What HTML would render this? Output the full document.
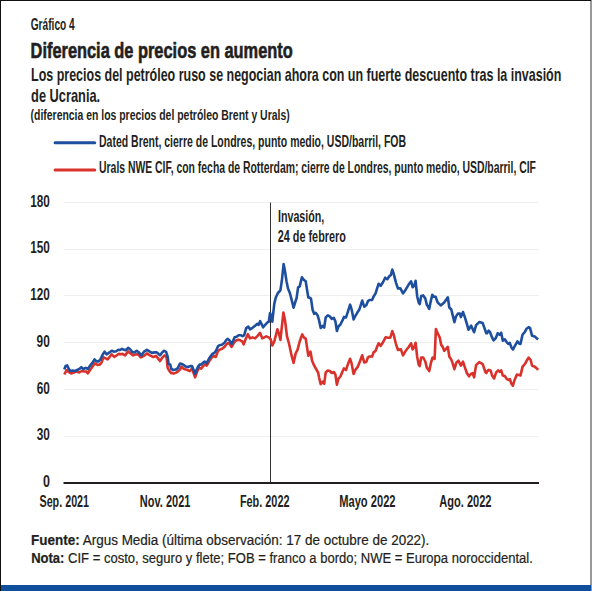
<!DOCTYPE html>
<html><head><meta charset="utf-8"><style>
html,body{margin:0;padding:0;background:#fff;width:592px;height:592px;overflow:hidden}
svg{display:block}
</style></head><body>
<svg width="592" height="592" viewBox="0 0 592 592">
<rect x="0" y="0" width="592" height="592" fill="#fff"/>
<rect x="64" width="475" y="202" height="1" fill="#efefeb"/><rect x="64" width="475" y="249" height="1" fill="#efefeb"/><rect x="64" width="475" y="295" height="1" fill="#efefeb"/><rect x="64" width="475" y="342" height="1" fill="#efefeb"/><rect x="64" width="475" y="389" height="1" fill="#efefeb"/><rect x="64" width="475" y="436" height="1" fill="#efefeb"/>
<rect x="270" y="202.5" width="1" height="280" fill="#333"/>
<rect x="63.5" y="482" width="475.5" height="2" fill="#231f20"/>
<path d="M64.3,374.5 L65.6,372.0 L66.9,370.0 L68.6,372.0 L71.1,373.5 L73.7,372.5 L76.2,371.5 L79.3,372.5 L81.8,371.0 L84.3,371.5 L86.4,371.5 L87.9,373.3 L90.4,369.5 L92.9,365.9 L95.0,363.4 L97.5,364.9 L100.0,364.4 L101.6,362.4 L103.6,357.3 L105.6,358.3 L107.6,359.3 L109.7,356.8 L111.7,354.3 L114.2,356.8 L116.8,355.3 L118.8,353.8 L120.0,354.3 L122.5,353.9 L125.1,355.4 L128.1,351.4 L130.6,353.4 L133.2,355.4 L135.7,354.4 L138.2,354.4 L140.8,357.4 L143.8,355.9 L146.9,353.4 L149.9,355.4 L152.9,356.9 L156.0,355.9 L158.0,358.4 L160.0,361.0 L162.1,357.9 L164.6,355.4 L166.6,357.4 L167.6,367.6 L169.2,370.6 L171.2,373.1 L173.7,373.6 L176.2,372.6 L178.3,371.1 L180.0,369.6 L181.4,366.7 L184.1,369.1 L186.8,369.7 L189.8,371.1 L190.0,370.7 L192.0,368.6 L193.5,372.7 L195.1,377.3 L197.1,371.7 L199.1,367.6 L201.1,368.6 L202.7,366.6 L204.7,364.6 L206.7,365.6 L209.3,361.0 L211.8,357.5 L213.8,356.0 L215.8,357.0 L217.9,351.4 L219.4,349.9 L221.9,348.9 L224.5,346.9 L226.5,344.3 L228.0,342.8 L229.5,343.8 L231.6,346.9 L233.6,343.3 L235.6,340.8 L238.1,339.8 L240.2,340.3 L242.2,341.3 L243.7,344.3 L245.2,340.3 L247.8,334.2 L250.0,338.4 L252.5,337.4 L255.1,338.4 L257.6,335.9 L260.1,332.9 L262.2,338.4 L264.2,337.4 L266.2,336.4 L268.8,337.4 L270.8,339.5 L272.3,345.5 L274.3,341.5 L277.4,329.3 L278.9,333.4 L280.4,340.0 L283.4,312.6 L285.0,320.2 L287.0,336.4 L289.0,343.5 L291.6,355.7 L293.6,362.8 L295.6,353.6 L297.6,349.6 L299.7,341.5 L302.2,334.4 L304.2,337.9 L305.7,338.4 L308.3,355.7 L309.0,354.3 L310.5,351.7 L312.1,360.8 L314.1,365.4 L316.1,369.0 L318.1,372.5 L319.1,377.6 L320.7,384.2 L322.7,381.6 L324.2,383.6 L325.7,372.5 L327.8,370.5 L329.8,371.0 L331.8,373.0 L333.8,372.0 L335.4,374.5 L336.9,384.7 L338.4,378.6 L340.4,376.6 L342.5,371.5 L344.0,368.4 L346.0,370.0 L348.0,363.9 L350.1,358.8 L351.6,363.4 L353.6,374.0 L355.6,369.5 L357.7,366.9 L359.7,361.9 L362.2,355.3 L364.2,362.4 L366.3,361.9 L368.0,357.3 L369.5,356.5 L372.1,356.5 L373.6,352.4 L375.6,350.9 L377.1,346.8 L378.6,343.3 L380.7,345.8 L382.7,342.8 L385.7,337.2 L387.8,337.7 L390.3,337.7 L392.3,331.1 L393.8,335.2 L395.9,343.8 L397.9,349.9 L400.9,349.4 L403.0,355.4 L406.0,350.4 L408.5,347.3 L411.1,343.3 L412.6,349.4 L414.1,347.3 L415.6,342.8 L417.2,357.0 L418.7,364.6 L419.7,366.1 L421.2,357.5 L423.2,357.5 L425.3,361.5 L426.8,367.6 L428.0,369.1 L429.2,371.2 L431.0,362.6 L432.6,357.5 L434.6,359.0 L435.9,329.1 L437.6,333.2 L439.7,337.3 L441.2,344.9 L442.7,346.9 L444.2,350.9 L445.7,349.4 L447.8,346.9 L449.3,356.5 L451.3,359.6 L452.8,363.6 L454.4,369.2 L456.4,362.6 L458.4,360.6 L460.9,365.6 L463.0,361.6 L465.0,367.7 L467.0,373.2 L469.0,376.3 L471.1,373.7 L472.6,373.2 L474.1,377.3 L476.1,365.1 L479.2,362.1 L482.7,364.1 L485.5,372.4 L486.3,373.2 L487.0,371.4 L488.0,370.7 L488.6,369.9 L490.6,370.4 L492.1,375.5 L494.1,378.5 L496.2,372.4 L498.2,370.4 L499.7,371.9 L501.2,370.4 L502.8,375.5 L504.8,376.0 L506.8,379.0 L508.3,380.0 L509.8,379.0 L511.4,383.6 L512.9,385.6 L514.4,380.5 L516.9,374.5 L519.0,375.0 L520.5,375.5 L522.5,366.9 L525.0,363.8 L526.6,360.8 L528.6,357.7 L530.6,359.8 L532.1,365.8 L534.2,366.4 L536.2,367.9 L538.2,369.9" fill="none" stroke="#d9312b" stroke-width="2.6" stroke-linejoin="round"/>
<path d="M64.3,369.5 L65.6,365.9 L67.1,365.4 L68.6,368.4 L70.1,371.0 L72.7,370.5 L75.2,371.0 L77.2,370.0 L79.3,369.0 L81.3,367.2 L83.3,369.0 L85.8,367.9 L87.9,369.0 L89.9,365.9 L92.4,362.9 L94.5,359.3 L96.5,361.4 L98.5,361.4 L100.5,359.3 L102.6,354.8 L104.6,351.7 L106.6,354.3 L109.2,352.7 L111.7,350.7 L113.7,351.7 L116.2,351.2 L118.3,349.7 L120.0,350.0 L122.0,348.8 L124.1,349.8 L125.6,350.3 L128.1,347.8 L130.1,349.3 L132.2,351.9 L134.2,352.4 L136.7,350.8 L138.8,352.4 L141.3,355.4 L143.8,351.9 L146.9,349.8 L149.4,351.4 L151.9,352.9 L154.5,352.4 L156.5,352.4 L158.0,353.4 L160.0,355.4 L162.1,352.4 L164.1,350.8 L166.1,351.9 L167.6,356.4 L168.6,364.0 L170.2,364.5 L171.2,368.6 L173.2,370.1 L175.7,369.6 L177.8,368.1 L180.0,363.5 L182.7,364.3 L185.4,366.4 L188.1,367.0 L190.0,366.1 L192.0,366.1 L193.5,369.7 L195.1,373.7 L196.6,369.7 L198.1,366.6 L199.6,364.6 L201.1,364.6 L202.7,363.1 L204.7,361.6 L206.7,363.1 L208.8,359.0 L210.8,356.0 L212.3,354.0 L214.3,352.9 L216.4,349.9 L217.9,346.4 L219.4,345.3 L221.9,344.8 L224.5,342.8 L226.0,340.3 L227.5,338.8 L229.5,340.3 L231.6,343.8 L233.1,340.8 L234.6,337.2 L236.6,336.7 L238.6,335.2 L240.7,335.2 L242.7,336.2 L244.2,335.2 L246.2,328.1 L248.3,326.6 L250.0,329.3 L252.5,327.8 L255.1,325.8 L257.1,323.8 L258.6,324.8 L260.1,321.2 L261.7,324.3 L263.2,327.3 L265.2,324.8 L267.2,322.7 L268.8,321.7 L270.0,313.1 L271.3,316.1 L272.3,321.7 L274.3,303.6 L275.8,297.5 L277.9,293.0 L280.4,290.4 L281.9,280.3 L283.6,264.1 L285.0,271.2 L286.5,281.3 L288.0,288.4 L290.0,293.5 L291.6,299.6 L293.6,307.7 L295.1,302.6 L296.6,298.0 L298.1,287.4 L299.7,286.4 L301.9,277.3 L303.7,279.8 L305.7,281.3 L308.3,297.5 L309.5,297.6 L311.0,298.6 L312.6,309.8 L314.1,313.8 L315.6,312.8 L317.6,315.3 L319.1,320.4 L320.7,328.0 L322.7,326.0 L324.2,327.5 L325.7,317.4 L327.8,315.3 L329.8,316.4 L331.8,318.9 L333.8,317.9 L335.4,321.4 L336.9,331.0 L338.4,326.5 L340.4,324.5 L342.5,320.4 L344.0,316.9 L346.0,317.4 L348.0,311.3 L350.1,304.7 L351.6,309.3 L353.6,319.4 L355.1,316.4 L357.2,312.8 L359.2,309.8 L362.2,300.6 L364.2,306.7 L366.3,305.2 L368.0,301.1 L369.5,300.0 L372.1,300.0 L373.6,296.5 L375.6,293.4 L377.1,288.4 L378.6,283.8 L380.7,285.8 L382.7,282.8 L385.2,277.7 L387.3,279.2 L389.3,276.2 L390.8,275.2 L392.3,269.6 L393.8,274.2 L395.9,282.3 L397.9,288.4 L400.4,288.4 L403.0,293.4 L405.5,289.9 L408.5,284.8 L411.1,281.3 L412.6,287.3 L414.1,285.8 L415.6,280.8 L417.2,296.5 L418.7,302.5 L419.7,304.1 L421.2,296.0 L423.2,295.4 L425.3,298.5 L426.8,304.6 L428.0,306.6 L429.2,309.0 L430.5,302.4 L432.3,294.8 L434.1,296.8 L435.6,296.8 L437.6,302.4 L440.7,305.4 L444.2,302.4 L447.8,297.3 L449.3,307.5 L451.3,309.5 L452.8,315.6 L454.4,322.2 L455.9,316.6 L457.9,313.6 L459.9,313.6 L460.9,317.1 L463.0,312.0 L465.0,317.6 L466.5,322.7 L468.5,329.7 L471.1,325.6 L474.1,332.2 L476.1,325.1 L479.2,322.1 L482.7,323.1 L486.3,333.2 L487.0,333.2 L488.6,330.7 L490.1,332.2 L491.6,336.3 L493.6,340.3 L495.7,338.3 L497.7,333.2 L499.7,334.8 L501.2,332.7 L502.8,340.8 L504.8,339.3 L506.8,342.4 L508.3,343.9 L509.8,342.9 L511.4,347.4 L512.9,349.5 L514.9,345.9 L517.4,341.4 L519.0,343.4 L520.5,343.9 L522.5,334.8 L525.0,331.7 L526.6,328.7 L528.6,327.2 L530.1,328.2 L532.1,335.8 L533.7,336.3 L535.2,336.8 L536.7,338.3 L538.2,339.3" fill="none" stroke="#1d4f9e" stroke-width="2.6" stroke-linejoin="round"/>
<line x1="55.1" x2="94.7" y1="142.7" y2="142.7" stroke="#1d4f9e" stroke-width="3" stroke-linecap="round"/>
<line x1="55.1" x2="94.7" y1="170.1" y2="170.1" stroke="#d9312b" stroke-width="3" stroke-linecap="round"/>
<g font-family="Liberation Sans, sans-serif" fill="#231f20">
<text id="g4" x="30.70" y="30.0" font-size="15.8" font-weight="bold" textLength="44.03" lengthAdjust="spacingAndGlyphs">Gráfico 4</text>
<text id="title" x="30.58" y="57.9" font-size="21.3" font-weight="bold" textLength="262.14" lengthAdjust="spacingAndGlyphs" stroke="#231f20" stroke-width="0.6">Diferencia de precios en aumento</text>
<text id="sub1" x="31.06" y="81.0" font-size="18.5" font-weight="bold" textLength="530.32" lengthAdjust="spacingAndGlyphs">Los precios del petróleo ruso se negocian ahora con un fuerte descuento tras la invasión</text>
<text id="sub2" x="31.08" y="102.1" font-size="18.5" font-weight="bold" textLength="69.09" lengthAdjust="spacingAndGlyphs">de Ucrania.</text>
<text id="dif" x="30.56" y="119.5" font-size="15.5" font-weight="bold" textLength="259.13" lengthAdjust="spacingAndGlyphs">(diferencia en los precios del petróleo Brent y Urals)</text>
<text id="leg1" x="99.02" y="146.7" font-size="16" font-weight="bold" textLength="307.06" lengthAdjust="spacingAndGlyphs">Dated Brent, cierre de Londres, punto medio, USD/barril, FOB</text>
<text id="leg2" x="99.06" y="173" font-size="16" font-weight="bold" textLength="436.86" lengthAdjust="spacingAndGlyphs">Urals NWE CIF, con fecha de Rotterdam; cierre de Londres, punto medio, USD/barril, CIF</text>
<text id="y0" x="42.91" y="487.1" font-size="15.9" font-weight="bold" textLength="6.96" lengthAdjust="spacingAndGlyphs">0</text>
<text id="y30" x="36.70" y="440.4" font-size="15.9" font-weight="bold" textLength="13.13" lengthAdjust="spacingAndGlyphs">30</text>
<text id="y60" x="36.72" y="393.6" font-size="15.9" font-weight="bold" textLength="13.12" lengthAdjust="spacingAndGlyphs">60</text>
<text id="y90" x="36.62" y="346.9" font-size="15.9" font-weight="bold" textLength="13.19" lengthAdjust="spacingAndGlyphs">90</text>
<text id="y120" x="30.15" y="300.2" font-size="15.9" font-weight="bold" textLength="19.64" lengthAdjust="spacingAndGlyphs">120</text>
<text id="y150" x="30.15" y="253.4" font-size="15.9" font-weight="bold" textLength="19.64" lengthAdjust="spacingAndGlyphs">150</text>
<text id="y180" x="30.15" y="206.7" font-size="15.9" font-weight="bold" textLength="19.64" lengthAdjust="spacingAndGlyphs">180</text>
<text id="xSep" x="39.49" y="506.8" font-size="16" font-weight="bold" textLength="49.56" lengthAdjust="spacingAndGlyphs">Sep. 2021</text>
<text id="xNov" x="139.87" y="506.8" font-size="16" font-weight="bold" textLength="50.51" lengthAdjust="spacingAndGlyphs">Nov. 2021</text>
<text id="xFeb" x="239.93" y="506.8" font-size="16" font-weight="bold" textLength="49.58" lengthAdjust="spacingAndGlyphs">Feb. 2022</text>
<text id="xMay" x="339.16" y="506.8" font-size="16" font-weight="bold" textLength="56.37" lengthAdjust="spacingAndGlyphs">Mayo 2022</text>
<text id="xAgo" x="439.23" y="506.8" font-size="16" font-weight="bold" textLength="52.31" lengthAdjust="spacingAndGlyphs">Ago. 2022</text>
<text id="inv1" x="277.96" y="222" font-size="16" font-weight="bold" textLength="46.38" lengthAdjust="spacingAndGlyphs">Invasión,</text>
<text id="inv2" x="277.68" y="241.5" font-size="16" font-weight="bold" textLength="68.23" lengthAdjust="spacingAndGlyphs">24 de febrero</text>
<text id="fue" x="31.11" y="545.3" font-size="13.8" textLength="398.25" lengthAdjust="spacingAndGlyphs" stroke="#231f20" stroke-width="0.2"><tspan font-weight="bold">Fuente:</tspan> Argus Media (última observación: 17 de octubre de 2022).</text>
<text id="nota" x="31.14" y="562.8" font-size="13.8" textLength="501.69" lengthAdjust="spacingAndGlyphs" stroke="#231f20" stroke-width="0.2"><tspan font-weight="bold">Nota:</tspan> CIF = costo, seguro y flete; FOB = franco a bordo; NWE = Europa noroccidental.</text>
</g>
<rect x="590" y="0" width="2" height="591" fill="#9a9898"/>
<rect x="0" y="0" width="591" height="1" fill="#111"/>
<rect x="0" y="0" width="1" height="591" fill="#111"/>
<rect x="1" y="585" width="590" height="6" fill="#0f4f9b"/>
</svg>
</body></html>
